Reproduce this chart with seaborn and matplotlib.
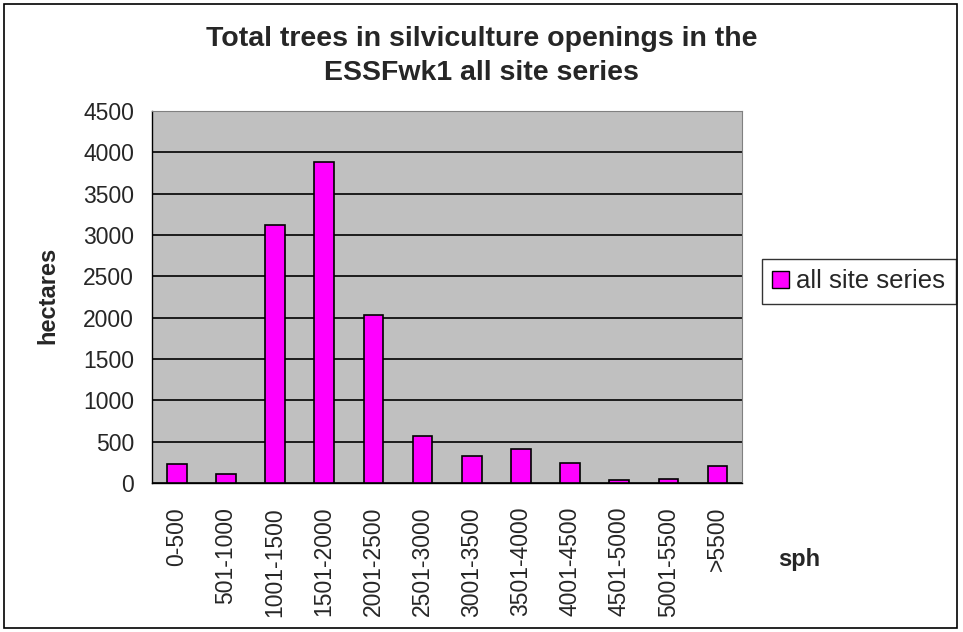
import seaborn as sns
import pandas as pd
import numpy as np
from matplotlib import pyplot as plt
from matplotlib.patches import Rectangle, Patch

# values
categories = ['0-500', '501-1000', '1001-1500', '1501-2000', '2001-2500', '2501-3000',
              '3001-3500', '3501-4000', '4001-4500', '4501-5000', '5001-5500', '>5500']
hectares = [228, 112, 3115, 3885, 2030, 572, 325, 420, 248, 40, 55, 208]
series_name = 'all site series'
y_ticks = [0, 500, 1000, 1500, 2000, 2500, 3000, 3500, 4000, 4500]

df = pd.DataFrame({'sph': categories, 'hectares': hectares})

sns.set_style('white')
plt.rcParams['font.family'] = ['Liberation Sans', 'DejaVu Sans']

fig = plt.figure(figsize=(9.63, 6.32), dpi=100)
ax = fig.add_axes([0.158, 0.2353, 0.6127, 0.5895])

sns.barplot(data=df, x='sph', y='hectares', color='#FF00FF', saturation=1,
            edgecolor='black', linewidth=1.2, width=0.4, ax=ax, zorder=3)

ax.set_facecolor('#C0C0C0')
ax.set_ylim(0, 4500)
ax.set_xlim(-0.5, len(categories) - 0.5)
ax.set_yticks(y_ticks)
ax.yaxis.grid(True, color='black', linewidth=1.2, zorder=0)
ax.set_axisbelow(True)

# Excel-like ticks: x ticks at category boundaries
ax.set_xticks(np.arange(len(categories)))
ax.set_xticklabels(categories, rotation=90, fontsize=16.5)
ax.set_xticks(np.arange(len(categories) + 1) - 0.5, minor=True)
ax.tick_params(axis='x', which='major', length=0, pad=17)
ax.tick_params(axis='x', which='minor', length=5, width=1, direction='out', color='black')
ax.tick_params(axis='y', length=5, width=1, direction='out', color='black', labelsize=16.5, pad=8)

for side in ['top', 'right']:
    ax.spines[side].set_color('#808080')
for side in ['left', 'bottom']:
    ax.spines[side].set_color('black')
ax.spines['left'].set_linewidth(1)
ax.spines['bottom'].set_linewidth(1)

ax.set_xlabel('')
ax.set_ylabel('')
fig.text(48 / 963, 1 - 295.5 / 632, 'hectares', fontsize=17, fontweight='bold',
         rotation=90, ha='center', va='center')
fig.text(0.830, 0.114, 'sph', fontsize=17, fontweight='bold', ha='center', va='center')

fig.text(0.5, 0.939, 'Total trees in silviculture openings in the', fontsize=20.5,
         fontweight='bold', ha='center', va='center')
fig.text(0.5, 0.884, 'ESSFwk1 all site series', fontsize=20.5,
         fontweight='bold', ha='center', va='center')

leg = fig.legend(handles=[Patch(facecolor='#FF00FF', edgecolor='black', label=series_name)],
                 loc='center left', bbox_to_anchor=(0.791, 0.5546), fontsize=18.5,
                 frameon=True, fancybox=False, edgecolor='black', handlelength=0.65,
                 handleheight=0.65, handletextpad=0.3, borderpad=0.4, borderaxespad=0)
leg.get_frame().set_linewidth(1)

fig.patches.append(Rectangle((0.004, 0.006), 0.99, 0.988, transform=fig.transFigure,
                             fill=False, edgecolor='black', linewidth=1.2))

fig.savefig('out.png', dpi=100)
